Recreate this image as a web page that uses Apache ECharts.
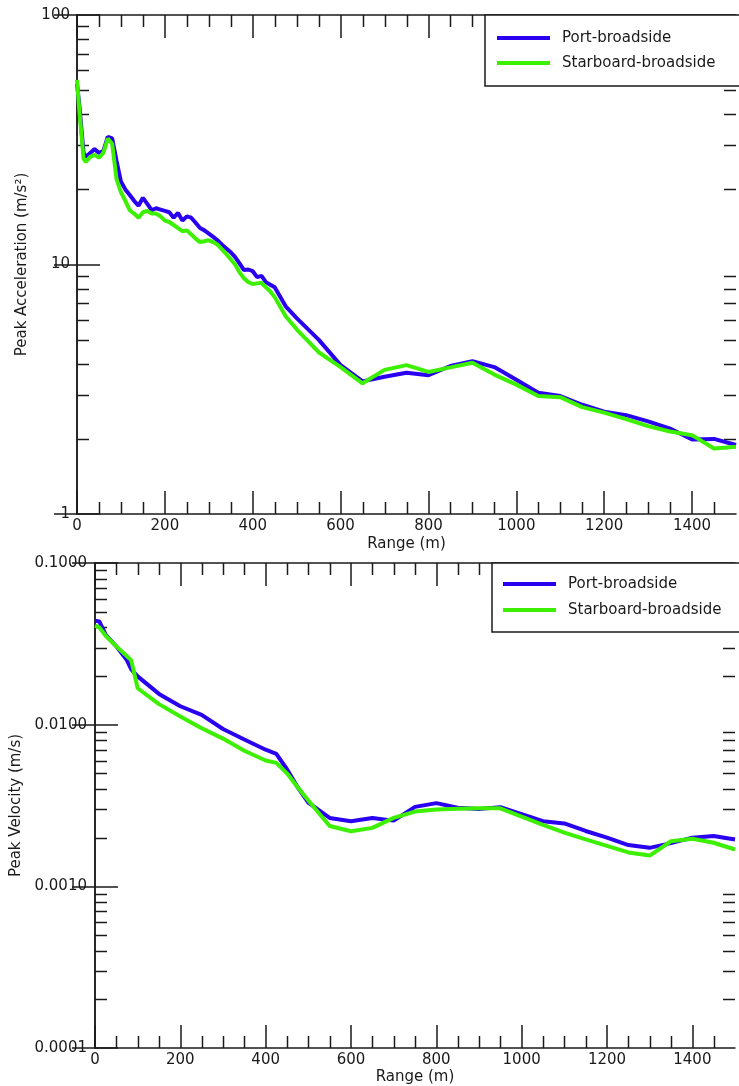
<!DOCTYPE html>
<html lang="en">
<head>
<meta charset="UTF-8">
<title>Peak acceleration / velocity vs range</title>
<style>
    html, body { margin: 0; padding: 0; background: #fff; }
    #chart { width: 739px; height: 1086px; }
</style>
</head>
<body>
<div id="chart"></div>
<script src="https://cdn.jsdelivr.net/npm/echarts@6/dist/echarts.min.js"></script>
<script type="text/javascript">
    var seriesNames = ['Port-broadside', 'Starboard-broadside'];

    // top panel: peak acceleration (m/s^2)
    var rangeAcc = [0, 5, 15, 20, 30, 40, 50, 60, 70, 80, 90, 100, 110, 120, 130, 140, 150, 160, 170, 180,
        190, 200, 210, 220, 230, 240, 250, 260, 270, 280, 290, 300, 310, 320, 330, 340, 350, 360, 370, 380,
        390, 400, 410, 420, 430, 440, 450, 475, 500, 550, 600, 650, 700, 750, 800, 850, 900, 950, 1000,
        1050, 1100, 1150, 1200, 1250, 1300, 1350, 1400, 1450, 1500];
    var portAcc = [53, 44, 28, 27, 28, 29, 28, 28.5, 32.5, 32, 26, 21.5, 20, 19, 18, 17.2, 18.5, 17.5, 16.5, 16.8,
        16.6, 16.4, 16.2, 15.4, 16.1, 15.0, 15.6, 15.4, 14.7, 14.0, 13.7, 13.3, 12.9, 12.5, 12.0, 11.6, 11.2, 10.7, 10.1, 9.5,
        9.55, 9.4, 8.9, 9.0, 8.5, 8.3, 8.1, 6.8, 6.1, 5.0, 3.95, 3.4, 3.55, 3.68, 3.6, 3.92, 4.1, 3.88, 3.45,
        3.06, 2.97, 2.74, 2.57, 2.49, 2.35, 2.2, 1.99, 2.0, 1.89];
    var starAcc = [55, 42, 26.5, 25.8, 27, 27.5, 26.8, 28, 32, 30.5, 22, 19.5, 18, 16.5, 16, 15.4, 16.2, 16.4, 16.0, 16.0,
        15.6, 15.0, 14.8, 14.4, 14.0, 13.6, 13.7, 13.2, 12.7, 12.3, 12.4, 12.5, 12.3, 12.0, 11.5, 11.0, 10.5, 10.0, 9.3, 8.8,
        8.5, 8.35, 8.4, 8.45, 8.1, 7.8, 7.4, 6.2, 5.5, 4.45, 3.88, 3.34, 3.78, 3.95, 3.71, 3.87, 4.04, 3.62, 3.3,
        2.97, 2.94, 2.68, 2.55, 2.4, 2.25, 2.14, 2.07, 1.83, 1.86];

    // bottom panel: peak velocity (m/s)
    var rangeVel = [0, 10, 25, 50, 75, 85, 100, 150, 200, 250, 300, 350, 400, 425, 450, 475, 500, 550, 600, 650,
        700, 750, 800, 850, 900, 950, 1000, 1050, 1100, 1150, 1200, 1250, 1300, 1350, 1400, 1450, 1500];
    var portVel = [0.044, 0.0435, 0.036, 0.0305, 0.025, 0.022, 0.0199, 0.0155, 0.013, 0.0115, 0.0094, 0.0081, 0.0070,
        0.0066, 0.0053, 0.0041, 0.0033, 0.00265, 0.00253, 0.00265, 0.00255, 0.0031, 0.00327, 0.00306, 0.00301,
        0.00309, 0.0028, 0.00253, 0.00245, 0.0022, 0.002, 0.0018, 0.00173, 0.00185, 0.002, 0.00205, 0.00195];
    var starVel = [0.041, 0.040, 0.0355, 0.0305, 0.0265, 0.025, 0.0168, 0.0134, 0.01125, 0.0095, 0.0082, 0.0069, 0.0060,
        0.0058, 0.0050, 0.0041, 0.0034, 0.00236, 0.00219, 0.0023, 0.00265, 0.0029, 0.00299, 0.00302, 0.00304,
        0.00304, 0.0027, 0.0024, 0.00215, 0.00195, 0.00178, 0.00162, 0.00155, 0.0019, 0.00197, 0.00186, 0.00169];

    // minor tick positions
    var rangeMinor = [50, 100, 150, 250, 300, 350, 450, 500, 550, 650, 700, 750, 850, 900, 950,
        1050, 1100, 1150, 1250, 1300, 1350, 1450];
    var accMinor = [2, 3, 4, 5, 6, 7, 8, 9, 20, 30, 40, 50, 60, 70, 80, 90];
    var velMinor = [0.0002, 0.0003, 0.0004, 0.0005, 0.0006, 0.0007, 0.0008, 0.0009,
        0.002, 0.003, 0.004, 0.005, 0.006, 0.007, 0.008, 0.009,
        0.02, 0.03, 0.04, 0.05, 0.06, 0.07, 0.08, 0.09];

    var FONT = 'DejaVu Sans';
    var INK = '#1a1a1a';
    var BLUE = '#2a00f0';
    var GREEN = '#3cf000';

    function pairs(xs, ys) {
        return xs.map(function (x, i) { return [x, ys[i]]; });
    }

    // draws the small inward ticks on all four sides of a grid
    function minorTicks(xVals, yVals, yLow) {
        return function (params, api) {
            var cs = params.coordSys;
            var kids = [];
            var st = { stroke: INK, lineWidth: 1.5 };
            xVals.forEach(function (v) {
                var px = Math.round(api.coord([v, yLow])[0]) + 0.5;
                kids.push({ type: 'line', shape: { x1: px, y1: cs.y + cs.height, x2: px, y2: cs.y + cs.height - 12 }, style: st });
                kids.push({ type: 'line', shape: { x1: px, y1: cs.y, x2: px, y2: cs.y + 12 }, style: st });
            });
            yVals.forEach(function (v) {
                var py = Math.round(api.coord([0, v])[1]) + 0.5;
                kids.push({ type: 'line', shape: { x1: cs.x, y1: py, x2: cs.x + 12, y2: py }, style: st });
                kids.push({ type: 'line', shape: { x1: cs.x + cs.width - 12, y1: py, x2: cs.x + cs.width, y2: py }, style: st });
            });
            return { type: 'group', children: kids };
        };
    }

    function xAxes(grid, nameGap) {
        var line = { show: true, lineStyle: { color: INK, width: 1.5 } };
        var tick = { show: true, inside: true, length: 23, lineStyle: { color: INK, width: 1.5 } };
        return [{
            type: 'value', gridIndex: grid, min: 0, max: 1500, interval: 200, position: 'bottom',
            name: 'Range (m)', nameLocation: 'middle', nameGap: nameGap,
            nameTextStyle: { fontFamily: FONT, fontSize: 15, color: INK },
            axisLine: line, axisTick: tick, splitLine: { show: false },
            axisLabel: {
                fontFamily: FONT, fontSize: 15, color: INK, margin: 5, showMaxLabel: false,
                formatter: function (v) { return String(v); }
            }
        }, {
            type: 'value', gridIndex: grid, min: 0, max: 1500, interval: 200, position: 'top',
            axisLine: line, axisTick: tick, splitLine: { show: false }, axisLabel: { show: false }
        }];
    }

    function yAxes(grid, min, max, name, nameGap, fmt, margin) {
        var line = { show: true, lineStyle: { color: INK, width: 1.5 } };
        var tick = { show: true, inside: true, length: 23, lineStyle: { color: INK, width: 1.5 } };
        return [{
            type: 'log', logBase: 10, gridIndex: grid, min: min, max: max, position: 'left',
            name: name, nameLocation: 'middle', nameGap: nameGap, nameRotate: 90,
            nameTextStyle: { fontFamily: FONT, fontSize: 15, color: INK },
            axisLine: line, axisTick: tick, splitLine: { show: false },
            axisLabel: { fontFamily: FONT, fontSize: 15, color: INK, margin: margin, formatter: fmt }
        }, {
            type: 'log', logBase: 10, gridIndex: grid, min: min, max: max, position: 'right',
            axisLine: line, axisTick: tick, splitLine: { show: false }, axisLabel: { show: false }
        }];
    }

    function legendAt(left, top, pad, gap) {
        return {
            left: left, top: top, orient: 'vertical', icon: 'rect',
            itemWidth: 53, itemHeight: 4, itemGap: gap, padding: pad,
            backgroundColor: '#fff', borderColor: INK, borderWidth: 1.5, borderRadius: 0,
            textStyle: { fontFamily: FONT, fontSize: 15, color: INK, lineHeight: 18, padding: [0, 0, 0, 7] },
            data: seriesNames
        };
    }

    function lineSeries(name, color, xi, yi, data) {
        return {
            name: name, type: 'line', xAxisIndex: xi, yAxisIndex: yi, data: data,
            showSymbol: false, symbol: 'none', smooth: false,
            itemStyle: { color: color }, lineStyle: { color: color, width: 4 },
            emphasis: { disabled: true }
        };
    }

    var chart = echarts.init(document.getElementById('chart'), null, { renderer: 'canvas' });
    var option = {
        animation: false,
        backgroundColor: '#fff',
        grid: [
            { left: 77, right: 3, top: 15, height: 499 },
            { left: 95, right: 4, top: 563, height: 486 }
        ],
        xAxis: xAxes(0, 23).concat(xAxes(1, 22)),
        yAxis: yAxes(0, 1, 100, 'Peak Acceleration (m/s\u00b2)', 47,
                function (v) { return String(Math.round(v)); }, 7)
            .concat(yAxes(1, 0.0001, 0.1, 'Peak Velocity (m/s)', 70,
                function (v) { return v.toFixed(4); }, 8)),
        legend: [
            legendAt(485, 15, [14, 30, 14, 12], 7),
            legendAt(492, 563, [12, 30, 13, 11], 8)
        ],
        series: [
            {
                type: 'custom', xAxisIndex: 0, yAxisIndex: 0, silent: true, clip: false, z: 1,
                data: [[0, 1]], renderItem: minorTicks(rangeMinor, accMinor, 1)
            },
            {
                type: 'custom', xAxisIndex: 2, yAxisIndex: 2, silent: true, clip: false, z: 1,
                data: [[0, 0.0001]], renderItem: minorTicks(rangeMinor, velMinor, 0.0001)
            },
            lineSeries(seriesNames[0], BLUE, 0, 0, pairs(rangeAcc, portAcc)),
            lineSeries(seriesNames[1], GREEN, 0, 0, pairs(rangeAcc, starAcc)),
            lineSeries(seriesNames[0], BLUE, 2, 2, pairs(rangeVel, portVel)),
            lineSeries(seriesNames[1], GREEN, 2, 2, pairs(rangeVel, starVel))
        ]
    };
    chart.setOption(option);
</script>
</body>
</html>
